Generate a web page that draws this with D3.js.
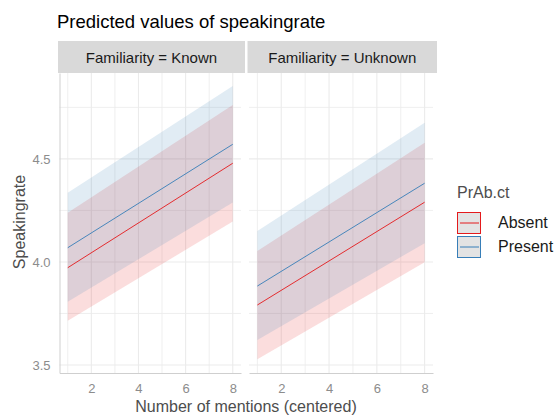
<!DOCTYPE html>
<html>
<head>
<meta charset="utf-8">
<script src="https://cdn.jsdelivr.net/npm/d3@7"></script>
<style>
  body { margin: 0; background: #fff; }
  text { font-family: "Liberation Sans", Arial, sans-serif; }
</style>
</head>
<body>
<div id="chart"></div>
<script>
// data (predictions at the ends of the x range)
const facets = ["Known", "Unknown"];
const groups = ["Absent", "Present"];
const xValues = [1, 8];

// [facet][group] -> values at x = 1 and x = 8
const predicted = {
  Known:   { Absent: [3.972, 4.479], Present: [4.069, 4.571] },
  Unknown: { Absent: [3.791, 4.290], Present: [3.883, 4.382] }
};
const lower = {
  Known:   { Absent: [3.715, 4.196], Present: [3.807, 4.288] },
  Unknown: { Absent: [3.528, 3.998], Present: [3.621, 4.091] }
};
const upper = {
  Known:   { Absent: [4.239, 4.762], Present: [4.336, 4.854] },
  Unknown: { Absent: [4.053, 4.579], Present: [4.150, 4.676] }
};

const yMajor = [3.5, 4.0, 4.5];
const yMinor = [3.75, 4.25, 4.75];
const xMajor = [2, 4, 6, 8];
const xMinor = [1, 3, 5, 7];

const colors = { Absent: "#e41a1c", Present: "#377eb8" };

const width = 555, height = 416;
const svg = d3.select("#chart").append("svg")
  .attr("width", width)
  .attr("height", height);

// shared y scale
const yScale = d3.scaleLinear().domain([3.461, 4.917]).range([373, 73]);

// panel positions
const panels = [
  { facet: "Known", left: 59.5, right: 241 },
  { facet: "Unknown", left: 249, right: 433 }
];

// title
svg.append("text")
  .attr("x", 57)
  .attr("y", 28)
  .style("font-size", "18.5px")
  .style("fill", "#000")
  .text("Predicted values of speakingrate");

panels.forEach(function (p, i) {
  const xScale = d3.scaleLinear().domain([0.65, 8.35]).range([p.left, p.right]);
  const g = svg.append("g");

  // strip
  g.append("rect")
    .attr("x", p.left - 1.5)
    .attr("y", 41)
    .attr("width", p.right - p.left + 5.5)
    .attr("height", 32)
    .style("fill", "#d9d9d9");
  g.append("text")
    .attr("x", (p.left - 1.5 + p.right + 4) / 2)
    .attr("y", 62.5)
    .attr("text-anchor", "middle")
    .style("font-size", "15px")
    .style("fill", "#1a1a1a")
    .text("Familiarity = " + p.facet);

  // grid
  g.selectAll(".ygrid")
    .data(yMajor.concat(yMinor))
    .join("line")
    .attr("x1", p.left).attr("x2", p.right)
    .attr("y1", d => yScale(d)).attr("y2", d => yScale(d))
    .style("stroke", "#ebebeb")
    .style("stroke-width", d => yMajor.includes(d) ? 1.1 : 0.8);
  g.selectAll(".xgrid")
    .data(xMajor.concat(xMinor))
    .join("line")
    .attr("y1", 73).attr("y2", 373)
    .attr("x1", d => xScale(d)).attr("x2", d => xScale(d))
    .style("stroke", "#ebebeb")
    .style("stroke-width", d => xMajor.includes(d) ? 1.1 : 0.8);

  // ribbons
  const area = d3.area()
    .x((d, j) => xScale(xValues[j]))
    .y0(d => yScale(d[0]))
    .y1(d => yScale(d[1]));
  groups.forEach(function (grp) {
    const rows = xValues.map((x, j) => [lower[p.facet][grp][j], upper[p.facet][grp][j]]);
    g.append("path")
      .datum(rows)
      .attr("d", area)
      .style("fill", colors[grp])
      .style("fill-opacity", 0.15);
  });

  // lines
  const line = d3.line()
    .x((d, j) => xScale(xValues[j]))
    .y(d => yScale(d));
  groups.forEach(function (grp) {
    g.append("path")
      .datum(predicted[p.facet][grp])
      .attr("d", line)
      .style("fill", "none")
      .style("stroke", colors[grp])
      .style("stroke-width", 0.9);
  });

  // x axis
  const xAxis = g.append("g")
    .attr("transform", "translate(0,373)")
    .call(d3.axisBottom(xScale).tickValues(xMajor).tickSize(0).tickPadding(11));
  xAxis.select(".domain").style("stroke", "#cfcfcf");
  xAxis.selectAll("text")
    .style("font-size", "13px")
    .style("fill", "#8c8c8c")
    .style("font-family", "'Liberation Sans', Arial, sans-serif");

  // y axis (first panel only)
  if (i === 0) {
    const yAxis = g.append("g")
      .attr("transform", `translate(${p.left},0)`)
      .call(d3.axisLeft(yScale).tickValues(yMajor).tickSize(0).tickPadding(9)
        .tickFormat(d3.format(".1f")));
    yAxis.select(".domain").style("stroke", "#cfcfcf");
    yAxis.selectAll("text")
      .style("font-size", "13px")
      .style("fill", "#8c8c8c")
      .style("font-family", "'Liberation Sans', Arial, sans-serif");
  }
});

// axis titles
svg.append("text")
  .attr("x", 246)
  .attr("y", 412)
  .attr("text-anchor", "middle")
  .style("font-size", "16px")
  .style("fill", "#4d4d4d")
  .text("Number of mentions (centered)");

svg.append("text")
  .attr("transform", "translate(25,222) rotate(-90)")
  .attr("text-anchor", "middle")
  .style("font-size", "16px")
  .style("fill", "#4d4d4d")
  .text("Speakingrate");

// legend
const legend = svg.append("g");
legend.append("text")
  .attr("x", 457)
  .attr("y", 198)
  .style("font-size", "16px")
  .style("fill", "#4d4d4d")
  .text("PrAb.ct");

groups.forEach(function (grp, j) {
  const top = 212 + j * 24;
  legend.append("rect")
    .attr("x", 457.5).attr("y", top + 0.5)
    .attr("width", 23).attr("height", 21)
    .style("fill", "#e3e3e3")
    .style("stroke", colors[grp])
    .style("stroke-width", 1);
  legend.append("line")
    .attr("x1", 460).attr("x2", 479)
    .attr("y1", top + 11).attr("y2", top + 11)
    .style("stroke", colors[grp])
    .style("stroke-width", 1);
  legend.append("text")
    .attr("x", 498)
    .attr("y", top + 15.5)
    .style("font-size", "16px")
    .style("fill", "#1a1a1a")
    .text(grp);
});
</script>
</body>
</html>
